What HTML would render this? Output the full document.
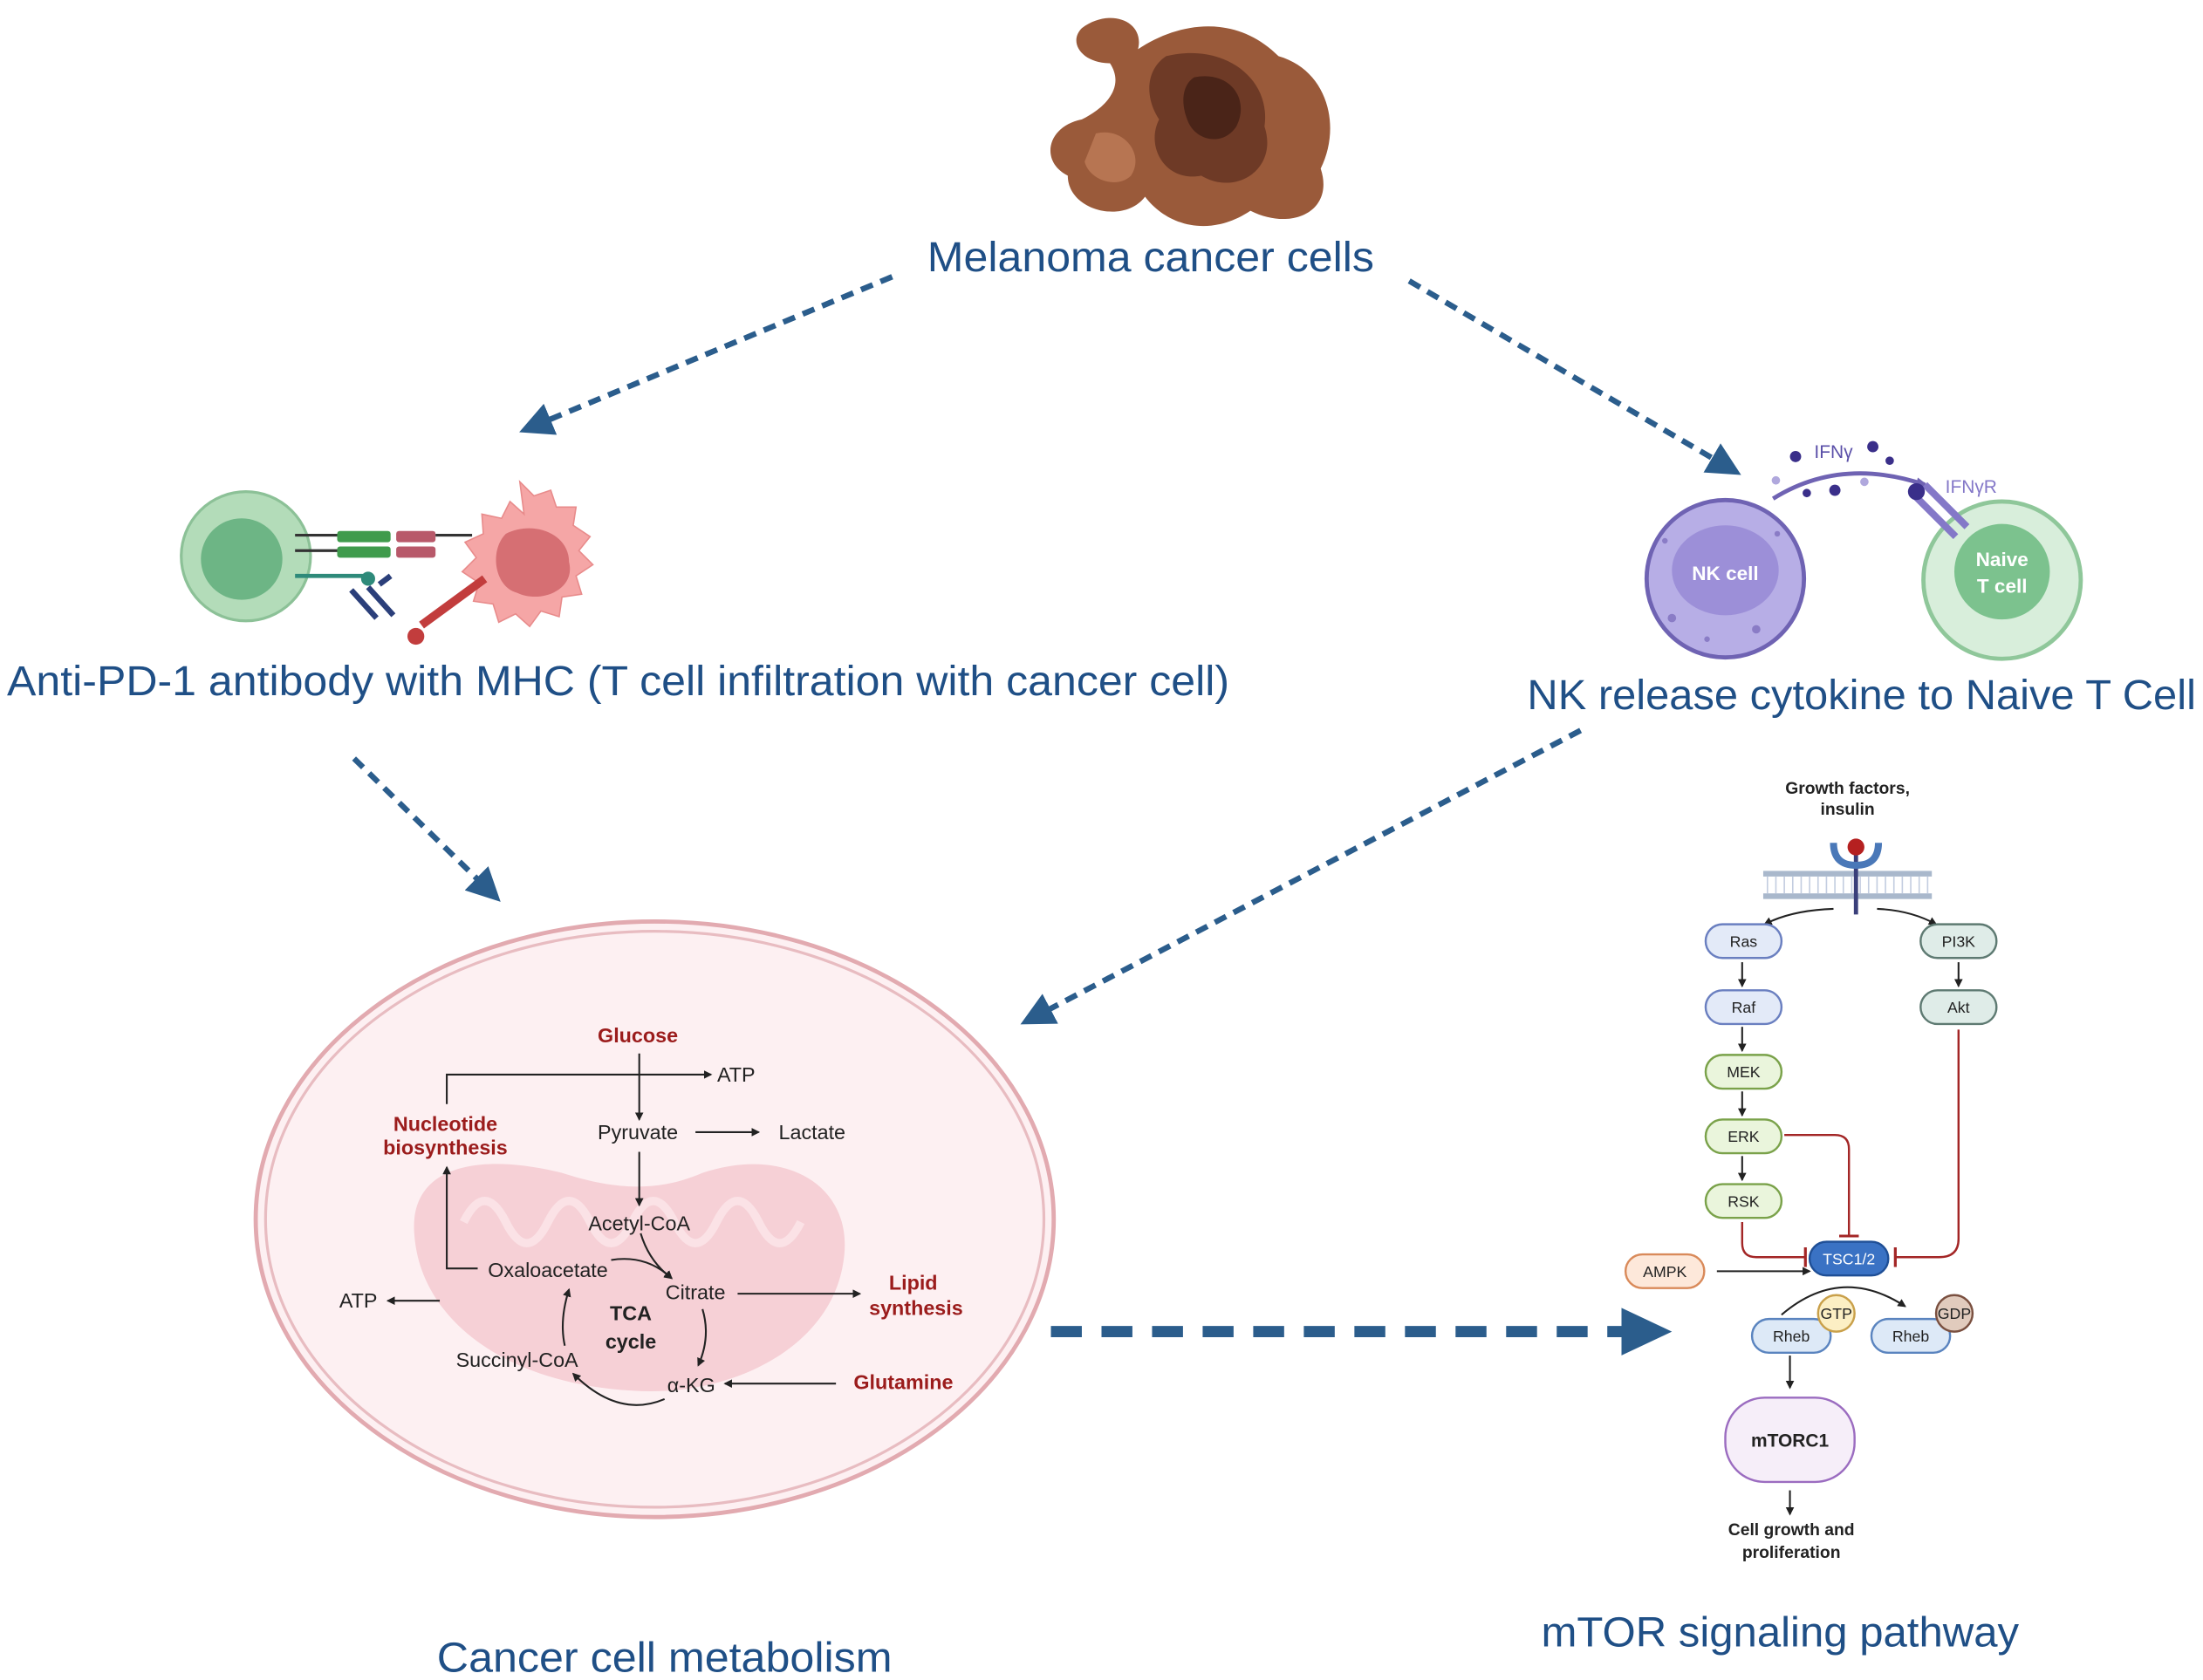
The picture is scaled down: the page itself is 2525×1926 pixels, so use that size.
<!DOCTYPE html>
<html><head><meta charset="utf-8"><style>html,body{margin:0;padding:0;background:#fff}svg{display:block}</style></head>
<body>
<svg width="2525" height="1926" viewBox="0 0 1568 1196" xmlns="http://www.w3.org/2000/svg" font-family="Liberation Sans, sans-serif">
<defs>
<marker id="ab" markerWidth="6" markerHeight="6" refX="5" refY="3" orient="auto" markerUnits="userSpaceOnUse"><path d="M0,0 L6,3 L0,6z" fill="#222"/></marker>
<marker id="bl" markerWidth="30" markerHeight="24" refX="4" refY="12" orient="auto" markerUnits="userSpaceOnUse"><path d="M0,0 L24,12 L0,24z" fill="#2b5d8c"/></marker>
<marker id="bl2" markerWidth="40" markerHeight="34" refX="4" refY="17" orient="auto" markerUnits="userSpaceOnUse"><path d="M0,0 L36,17 L0,34z" fill="#2b5d8c"/></marker>
<marker id="tb" markerWidth="2" markerHeight="14" refX="1" refY="7" orient="auto" markerUnits="userSpaceOnUse"><rect x="0" y="0" width="2" height="14" fill="#a32626"/></marker>
</defs>
<g>
<path d="M770,20 C790,5 815,15 810,35 C840,15 880,10 910,40 C945,50 955,90 940,120 C950,150 920,165 890,150 C860,170 830,160 815,140 C800,160 760,150 760,125 C740,115 745,90 770,85 C790,75 800,60 790,45 C770,45 760,30 770,20Z" fill="#9a5a3a"/>
<path d="M830,40 C870,30 905,55 900,90 C910,120 880,140 855,125 C830,130 815,105 825,85 C815,70 815,50 830,40Z" fill="#6e3a26"/>
<path d="M850,55 C875,50 890,70 880,90 C870,105 850,100 845,85 C840,72 842,60 850,55Z" fill="#4a2418"/>
<path d="M780,95 C800,90 815,110 805,125 C795,135 775,128 772,115Z" fill="#b77552"/>
</g>
<text x="660" y="193" font-size="30" fill="#1f4f86" textLength="318" lengthAdjust="spacingAndGlyphs">Melanoma cancer cells</text>
<g stroke="#2b5d8c" stroke-width="4" stroke-dasharray="9 6" fill="none">
<line x1="635" y1="197" x2="388" y2="300" marker-end="url(#bl)"/>
<line x1="1003" y1="200" x2="1222" y2="328" marker-end="url(#bl)"/>
<line x1="252" y1="540" x2="342" y2="628" marker-end="url(#bl)"/>
<line x1="1125" y1="520" x2="744" y2="720" marker-end="url(#bl)"/>
<line x1="748" y1="948" x2="1158" y2="948" stroke-width="8" stroke-dasharray="22 14" marker-end="url(#bl2)"/>
</g>
<circle cx="175" cy="396" r="46" fill="#b3dcb9" stroke="#8cc197" stroke-width="2"/>
<circle cx="172" cy="398" r="29" fill="#6db585"/>
<path d="M370,343 l10,10 12,-4 4,12 14,0 -2,13 12,8 -8,10 10,10 -12,8 4,13 -14,2 -2,14 -13,-4 -8,11 -10,-9 -12,6 -4,-13 -14,-2 4,-13 -12,-8 10,-10 -8,-11 13,-6 -1,-14 14,3 6,-12 10,9z" fill="#f5a6a6" stroke="#e88b8b"/>
<path d="M360,380 C380,370 405,380 405,400 C410,420 385,430 368,422 C352,418 348,392 360,380Z" fill="#d66f73"/>
<g fill="#3f9b4c"><rect x="240" y="378" width="38" height="8" rx="2"/><rect x="240" y="389" width="38" height="8" rx="2"/></g>
<g fill="#b8596a"><rect x="282" y="378" width="28" height="8" rx="2"/><rect x="282" y="389" width="28" height="8" rx="2"/></g>
<line x1="210" y1="381" x2="240" y2="381" stroke="#333" stroke-width="2"/><line x1="210" y1="392" x2="240" y2="392" stroke="#333" stroke-width="2"/>
<line x1="310" y1="381" x2="336" y2="381" stroke="#333" stroke-width="2"/>
<line x1="210" y1="410" x2="262" y2="410" stroke="#2e8a7a" stroke-width="3"/>
<circle cx="262" cy="412" r="5" fill="#2e8a7a"/>
<path d="M250,420 l18,20 M262,418 l18,20 M270,416 l8,-6" stroke="#2b3f7a" stroke-width="4" fill="none"/>
<path d="M345,412 L300,445" stroke="#c23d3d" stroke-width="6"/><circle cx="296" cy="453" r="6" fill="#c23d3d"/>
<text x="5" y="495" font-size="30" fill="#1f4f86" textLength="870" lengthAdjust="spacingAndGlyphs">Anti-PD-1 antibody with MHC (T cell infiltration with cancer cell)</text>
<circle cx="1228" cy="412" r="56" fill="#b7aee6" stroke="#6f63b3" stroke-width="3"/>
<ellipse cx="1228" cy="406" rx="38" ry="32" fill="#9c8fd8"/>
<g fill="#8a7cc6"><circle cx="1190" cy="440" r="3"/><circle cx="1250" cy="448" r="3"/><circle cx="1215" cy="455" r="2"/><circle cx="1265" cy="380" r="2"/><circle cx="1185" cy="385" r="2"/></g>
<text x="1228" y="413" font-size="14" font-weight="bold" fill="#fff" text-anchor="middle">NK cell</text>
<circle cx="1425" cy="413" r="56" fill="#d8eedb" stroke="#8fc79a" stroke-width="3"/>
<circle cx="1425" cy="407" r="34" fill="#7cc28e"/>
<text x="1425" y="403" font-size="14" font-weight="bold" fill="#fff" text-anchor="middle">Naive</text>
<text x="1425" y="422" font-size="14" font-weight="bold" fill="#fff" text-anchor="middle">T cell</text>
<path d="M1262,355 Q1310,325 1370,345" stroke="#6f63b3" stroke-width="3" fill="none"/>
<path d="M1365,340 l8,6 -10,3z" fill="#6f63b3"/>
<g fill="#3a2f8a"><circle cx="1278" cy="325" r="4"/><circle cx="1333" cy="318" r="4"/><circle cx="1306" cy="349" r="4"/><circle cx="1286" cy="351" r="3"/><circle cx="1345" cy="328" r="3"/></g>
<g fill="#b0a8dd"><circle cx="1264" cy="342" r="3"/><circle cx="1327" cy="343" r="3"/></g>
<path d="M1362,352 l30,30 M1370,345 l30,30" stroke="#8478c8" stroke-width="5"/>
<circle cx="1364" cy="350" r="6" fill="#3a2f8a"/>
<text x="1305" y="326" font-size="13" fill="#5a4fa8" text-anchor="middle">IFNγ</text>
<text x="1403" y="351" font-size="13" fill="#8478c8" text-anchor="middle">IFNγR</text>
<text x="1087" y="505" font-size="30" fill="#1f4f86" textLength="476" lengthAdjust="spacingAndGlyphs">NK release cytokine to Naive T Cell</text>
<ellipse cx="466" cy="868" rx="284" ry="212" fill="#fdf0f2" stroke="#e2aab0" stroke-width="3"/>
<ellipse cx="466" cy="868" rx="277" ry="205" fill="none" stroke="#e8bcc1" stroke-width="2"/>
<path d="M295,880 C290,830 340,820 400,835 C440,848 470,848 500,835 C560,815 610,845 600,900 C590,960 520,995 450,990 C360,985 300,940 295,880Z" fill="#f6d0d6"/>
<g stroke="#fbe2e6" stroke-width="6" fill="none"><path d="M330,870 q15,-30 30,0 q15,30 30,0 q15,-30 30,0 q15,30 30,0 q15,-30 30,0 q15,30 30,0 q15,-30 30,0 q15,30 30,0"/></g>
<g font-size="14.5" fill="#222" text-anchor="middle">
<text x="454" y="742" fill="#9b1c1c" font-weight="bold">Glucose</text>
<text x="524" y="770">ATP</text>
<text x="317" y="805" fill="#9b1c1c" font-weight="bold">Nucleotide</text>
<text x="317" y="822" fill="#9b1c1c" font-weight="bold">biosynthesis</text>
<text x="454" y="811">Pyruvate</text>
<text x="578" y="811">Lactate</text>
<text x="455" y="876">Acetyl-CoA</text>
<text x="390" y="909">Oxaloacetate</text>
<text x="495" y="925">Citrate</text>
<text x="650" y="918" fill="#9b1c1c" font-weight="bold">Lipid</text>
<text x="652" y="936" fill="#9b1c1c" font-weight="bold">synthesis</text>
<text x="255" y="931">ATP</text>
<text x="449" y="940" font-weight="bold">TCA</text>
<text x="449" y="960" font-weight="bold">cycle</text>
<text x="368" y="973">Succinyl-CoA</text>
<text x="492" y="991">α-KG</text>
<text x="643" y="989" fill="#9b1c1c" font-weight="bold">Glutamine</text>
</g>
<g stroke="#222" stroke-width="1.3" fill="none" marker-end="url(#ab)">
<line x1="455" y1="750" x2="455" y2="797"/>
<path d="M318,786 V765 H506"/>
<line x1="455" y1="820" x2="455" y2="858"/>
<line x1="495" y1="806" x2="540" y2="806"/>
<path d="M340,903 H318 V831"/>
<line x1="313" y1="926" x2="276" y2="926"/>
<line x1="525" y1="921" x2="612" y2="921"/>
<line x1="595" y1="985" x2="516" y2="985"/>
<path d="M456,878 Q462,898 478,910"/>
<path d="M435,897 Q460,893 478,910"/>
<path d="M500,932 Q506,952 497,972"/>
<path d="M473,996 Q440,1010 408,978"/>
<path d="M402,958 Q398,940 405,918"/>
</g>
<text x="311" y="1190" font-size="30" fill="#1f4f86" textLength="324" lengthAdjust="spacingAndGlyphs">Cancer cell metabolism</text>
<g font-size="12" font-weight="bold" fill="#222" text-anchor="middle"><text x="1315" y="565">Growth factors,</text><text x="1315" y="580">insulin</text></g>
<g fill="#a9b8cc"><rect x="1255" y="620" width="120" height="4"/><rect x="1255" y="636" width="120" height="4"/></g>
<g stroke="#c3cde0" stroke-width="1"><path d="M1258,624 v12 M1264,624 v12 M1270,624 v12 M1276,624 v12 M1282,624 v12 M1288,624 v12 M1294,624 v12 M1300,624 v12 M1306,624 v12 M1312,624 v12 M1318,624 v12 M1324,624 v12 M1330,624 v12 M1336,624 v12 M1342,624 v12 M1348,624 v12 M1354,624 v12 M1360,624 v12 M1366,624 v12 M1372,624 v12"/></g>
<line x1="1321" y1="608" x2="1321" y2="651" stroke="#3a3f7a" stroke-width="3"/>
<path d="M1305,600 Q1305,616 1321,616 Q1337,616 1337,600" stroke="#4a78b8" stroke-width="5" fill="none"/>
<circle cx="1321" cy="603" r="6" fill="#b52020"/>
<g stroke="#222" stroke-width="1.3" fill="none" marker-end="url(#ab)">
<path d="M1305,647 Q1275,648 1256,658"/><path d="M1336,647 Q1360,648 1378,658"/>
<line x1="1240" y1="685" x2="1240" y2="702"/><line x1="1240" y1="731" x2="1240" y2="748"/><line x1="1240" y1="777" x2="1240" y2="794"/><line x1="1240" y1="823" x2="1240" y2="840"/>
<line x1="1394" y1="685" x2="1394" y2="702"/>
<line x1="1222" y1="905" x2="1288" y2="905"/>
<path d="M1268,936 Q1310,900 1356,930"/>
<line x1="1274" y1="965" x2="1274" y2="988"/>
<line x1="1274" y1="1061" x2="1274" y2="1078"/>
</g>
<g stroke="#a32626" stroke-width="1.5" fill="none" marker-end="url(#tb)">
<path d="M1270,808 H1306 Q1316,808 1316,818 V880"/>
<path d="M1240,870 V885 Q1240,895 1250,895 H1285"/>
<path d="M1394,733 V882 Q1394,895 1380,895 H1349"/>
</g>
<g font-size="11" fill="#222" text-anchor="middle" stroke-width="1.5">
<rect x="1214" y="658" width="54" height="24" rx="12" fill="#e3eaf8" stroke="#6a7fc0"/><text x="1241" y="674">Ras</text>
<rect x="1214" y="705" width="54" height="24" rx="12" fill="#e3eaf8" stroke="#6a7fc0"/><text x="1241" y="721">Raf</text>
<rect x="1214" y="751" width="54" height="24" rx="12" fill="#eaf5dc" stroke="#7aa24a"/><text x="1241" y="767">MEK</text>
<rect x="1214" y="797" width="54" height="24" rx="12" fill="#eaf5dc" stroke="#7aa24a"/><text x="1241" y="813">ERK</text>
<rect x="1214" y="843" width="54" height="24" rx="12" fill="#eaf5dc" stroke="#7aa24a"/><text x="1241" y="859">RSK</text>
<rect x="1367" y="658" width="54" height="24" rx="12" fill="#dfece8" stroke="#5e7a72"/><text x="1394" y="674">PI3K</text>
<rect x="1367" y="705" width="54" height="24" rx="12" fill="#dfece8" stroke="#5e7a72"/><text x="1394" y="721">Akt</text>
<rect x="1288" y="884" width="56" height="24" rx="12" fill="#3a72c4" stroke="#1f4f96"/><text x="1316" y="900" fill="#fff">TSC1/2</text>
<rect x="1157" y="893" width="56" height="24" rx="12" fill="#fde8da" stroke="#d98a5a"/><text x="1185" y="909">AMPK</text>
<rect x="1247" y="939" width="56" height="24" rx="12" fill="#dde9f7" stroke="#5a84bf"/><text x="1275" y="955">Rheb</text>
<circle cx="1307" cy="935" r="13" fill="#fcefc4" stroke="#c9a04a"/><text x="1307" y="939">GTP</text>
<rect x="1332" y="939" width="56" height="24" rx="12" fill="#dde9f7" stroke="#5a84bf"/><text x="1360" y="955">Rheb</text>
<circle cx="1391" cy="935" r="13" fill="#e1cbbd" stroke="#7a5040"/><text x="1391" y="939">GDP</text>
<rect x="1228" y="995" width="92" height="60" rx="28" fill="#f6eef9" stroke="#9b6cc0"/><text x="1274" y="1030" font-size="13" font-weight="bold">mTORC1</text>
</g>
<g font-size="12" font-weight="bold" fill="#222" text-anchor="middle"><text x="1275" y="1093">Cell growth and</text><text x="1275" y="1109">proliferation</text></g>
<text x="1097" y="1172" font-size="30" fill="#1f4f86" textLength="340" lengthAdjust="spacingAndGlyphs">mTOR signaling pathway</text>
</svg>
</body></html>
